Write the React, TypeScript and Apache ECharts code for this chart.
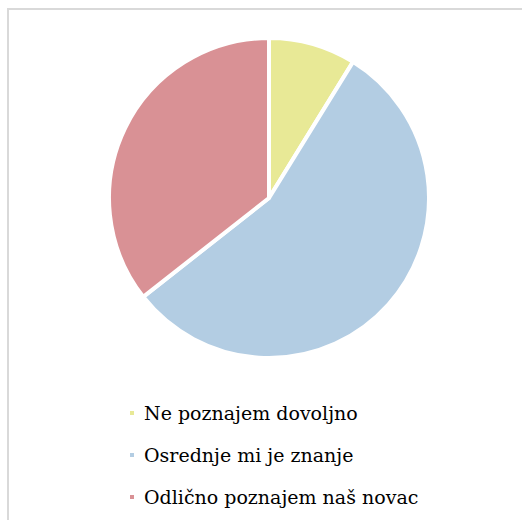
import React, { useEffect, useRef } from "react";
import * as echarts from "echarts";

const categories = ["Ne poznajem dovoljno", "Osrednje mi je znanje", "Odlično poznajem naš novac"];
const values = [8.8, 55.6, 35.6];
const colors = ["#e8e996", "#b3cde3", "#d99195"];

const FONT = "DejaVu Serif";

export default function App() {
  const ref = useRef<HTMLDivElement>(null);
  useEffect(() => {
    const chart = echarts.init(ref.current!, null, { renderer: "svg" });
    chart.setOption({
      animation: false,
      color: colors,
      textStyle: { fontFamily: FONT, fontSize: 19, color: "#000" },
      graphic: [
        {
          type: "rect",
          shape: { x: 8, y: 9, width: 700, height: 700 },
          style: { fill: "none", stroke: "#d9d9d9", lineWidth: 2 },
          silent: true,
        },
      ],
      legend: {
        orient: "vertical",
        left: 123,
        top: 397,
        icon: "rect",
        itemWidth: 6,
        itemHeight: 6,
        itemGap: 20,
        data: categories,
        textStyle: {
          fontFamily: FONT,
          fontSize: 19,
          color: "#000",
          lineHeight: 22,
          padding: [0, 0, 0, 4],
        },
      },
      series: [
        {
          type: "pie",
          center: [269, 198],
          radius: 160,
          startAngle: 90,
          clockwise: true,
          label: { show: false },
          labelLine: { show: false },
          itemStyle: { borderColor: "#fff", borderWidth: 4 },
          emphasis: { disabled: true },
          data: categories.map((name, i) => ({ name, value: values[i] })),
        },
      ],
    });
    return () => chart.dispose();
  }, []);
  return (
    <div
      ref={ref}
      style={{ position: "fixed", left: 0, top: 0, width: 522, height: 520, background: "#fff" }}
    />
  );
}
